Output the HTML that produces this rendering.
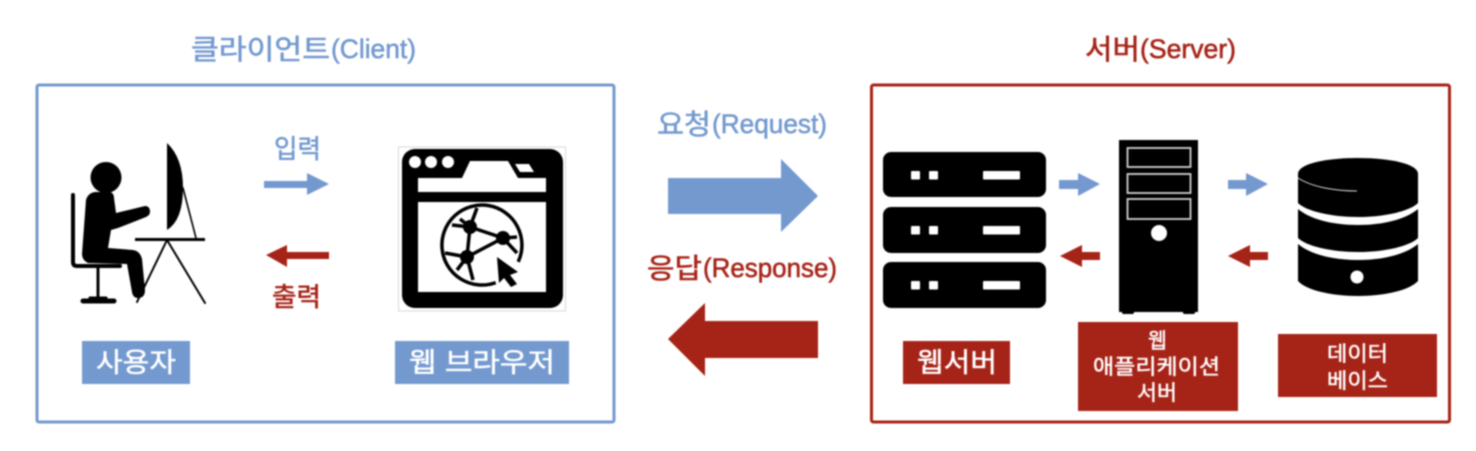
<!DOCTYPE html>
<html lang="ko">
<head>
<meta charset="utf-8">
<title>클라이언트 서버</title>
<style>
html,body{margin:0;padding:0;background:#fff;width:1476px;height:451px;overflow:hidden}
svg{display:block;filter:blur(.7px)}
text{font-family:"Liberation Sans","Noto Sans CJK KR","NanumGothic",sans-serif;stroke-width:.55px;paint-order:stroke}
.b{fill:#7399cf;stroke:#7399cf}
.r{fill:#a62317;stroke:#a62317}
.w{fill:#fff;stroke:#fff;stroke-width:.45px}
</style>
</head>
<body>
<svg width="1476" height="451" viewBox="0 0 1476 451" xmlns="http://www.w3.org/2000/svg">
<rect width="1476" height="451" fill="#fff"/>

<!-- containers -->
<rect x="37" y="85" width="577" height="337" rx="2" fill="#fff" stroke="#7399cf" stroke-width="3"/>
<rect x="871.5" y="85" width="578" height="337" rx="2" fill="#fff" stroke="#a62317" stroke-width="3"/>

<!-- titles -->
<text class="b" x="191" y="59" font-size="28" textLength="139" lengthAdjust="spacingAndGlyphs">클라이언트</text>
<text class="b" x="331" y="58" font-size="27" textLength="85" lengthAdjust="spacingAndGlyphs">(Client)</text>
<text class="r" x="1085" y="59" font-size="28" textLength="55" lengthAdjust="spacingAndGlyphs">서버</text>
<text class="r" x="1140" y="58" font-size="27" textLength="96" lengthAdjust="spacingAndGlyphs">(Server)</text>
<text class="b" x="657" y="134" font-size="28" textLength="54" lengthAdjust="spacingAndGlyphs">요청</text>
<text class="b" x="712" y="133" font-size="27" textLength="115" lengthAdjust="spacingAndGlyphs">(Request)</text>
<text class="r" x="647" y="278" font-size="28" textLength="55" lengthAdjust="spacingAndGlyphs">응답</text>
<text class="r" x="703" y="277" font-size="27" textLength="134" lengthAdjust="spacingAndGlyphs">(Response)</text>
<text class="b" x="274" y="158" font-size="26" textLength="47" lengthAdjust="spacingAndGlyphs">입력</text>
<text class="r" x="272" y="306" font-size="26" textLength="49" lengthAdjust="spacingAndGlyphs">출력</text>

<!-- big arrows -->
<polygon points="668,178 781,178 781,159 818,196 781,232 781,214 668,214" fill="#7399cf"/>
<polygon points="818,321 705,321 705,303 668,339 705,376 705,358 818,358" fill="#a62317"/>

<!-- client small arrows -->
<polygon points="264,181 307,181 307,173 329,184 307,195 307,188 264,188" fill="#7399cf"/>
<polygon points="329,252 287,252 287,245 266,255 287,267 287,259 329,259" fill="#a62317"/>

<!-- server small arrows -->
<polygon points="1059,180 1078,180 1078,173 1100,184 1078,196 1078,189 1059,189" fill="#7399cf"/>
<polygon points="1100,252 1082,252 1082,245 1060,256 1082,267 1082,260 1100,260" fill="#a62317"/>
<polygon points="1228,180 1246,180 1246,173 1268,184 1246,196 1246,189 1228,189" fill="#7399cf"/>
<polygon points="1268,252 1250,252 1250,245 1228,256 1250,267 1250,260 1268,260" fill="#a62317"/>

<!-- person at desk -->
<g fill="#000" stroke="none">
  <circle cx="106" cy="177.5" r="15.5"/>
  <path d="M86,200 Q88,193 95,192 L110,192 Q114,193 114,198 L116,213 L145,206 Q150,206 150,212 Q150,215 146,217 L118,228 L111,230 L108,248 L133,250 Q140,251 142,259 L145,290 Q145,298 138,298 Q133,298 132,292 L127,264 L88,263 Q82,260 82,254 Z"/>
  <path d="M167,143 Q183,158 183,188 Q183,220 167,230 Z"/>
  <rect x="135" y="238" width="70" height="3"/>
</g>
<g fill="none" stroke="#000" stroke-linecap="round">
  <path d="M73,195 L73,262 Q73,266 77,266 L120,266" stroke-width="4"/>
  <path d="M98,267 L98,297" stroke-width="3"/>
  <path d="M83,301 L114,301" stroke-width="5"/>
  <path d="M90,298 L106,298" stroke-width="3"/>
  <path d="M183,188 L196,238" stroke-width="1.6"/>
  <path d="M167,240 L205,303" stroke-width="2"/>
  <path d="M167,240 L137,302" stroke-width="2"/>
</g>

<!-- browser icon -->
<rect x="398.5" y="147" width="167" height="164" fill="#fff" stroke="#d8d8d8" stroke-width="1"/>
<rect x="402" y="149" width="161" height="159" rx="13" fill="#000"/>
<circle cx="415" cy="162" r="6" fill="#fff"/>
<circle cx="431" cy="162" r="6" fill="#fff"/>
<circle cx="448" cy="162" r="6" fill="#fff"/>
<polygon points="418,178 462,178 470,161 508,161 518,178 546,178 546,192 418,192" fill="#fff"/>
<polygon points="513,163 530,163 536,173 520,173" fill="#000"/>
<polygon points="515,164 529,164 534,172 520,172" fill="#fff"/>
<rect x="418" y="202" width="128" height="90" fill="#fff"/>
<g fill="none" stroke="#000" stroke-width="3.5">
  <path d="M495.7,282.6 A40,40 0 1 1 518.2,261.9"/>
  <path d="M470,227 L503,238 L467,257 Z"/>
  <path d="M470,227 L460,219 M470,227 L452,225 M470,227 L477,208 M503,238 L517,237 M503,238 L517,253 M467,257 L445,253 M467,257 L457,270 M467,257 L473,280"/>
</g>
<circle cx="470" cy="227" r="7"/>
<circle cx="503" cy="238" r="7"/>
<circle cx="467" cy="257" r="7"/>
<polygon points="497,257 518,272 510,275 517,284 511,287 504,278 499,283" fill="#000"/>

<!-- web server racks -->
<g fill="#000">
  <rect x="883" y="152" width="163" height="45" rx="8"/>
  <rect x="883" y="207" width="163" height="46" rx="8"/>
  <rect x="883" y="262" width="163" height="46" rx="8"/>
</g>
<g fill="#fff">
  <rect x="911" y="171" width="9" height="8.5" rx="1"/><rect x="929" y="171" width="9" height="8.5" rx="1"/><rect x="983" y="171" width="37" height="8.5" rx="1"/>
  <rect x="911" y="226" width="9" height="8.5" rx="1"/><rect x="929" y="226" width="9" height="8.5" rx="1"/><rect x="983" y="226" width="37" height="8.5" rx="1"/>
  <rect x="911" y="281" width="9" height="8.5" rx="1"/><rect x="929" y="281" width="9" height="8.5" rx="1"/><rect x="983" y="281" width="37" height="8.5" rx="1"/>
</g>

<!-- tower -->
<rect x="1119" y="140" width="79" height="172" fill="#000"/>
<rect x="1122" y="311" width="12" height="3" rx="1.5" fill="#000"/>
<rect x="1183" y="311" width="12" height="3" rx="1.5" fill="#000"/>
<g fill="none" stroke="#d0d0d0" stroke-width="1.8">
  <rect x="1127.5" y="148" width="63" height="19"/>
  <rect x="1127.5" y="174" width="63" height="19"/>
  <rect x="1127.5" y="199" width="63" height="20"/>
</g>
<circle cx="1159" cy="233" r="8" fill="#fff"/>

<!-- database -->
<g fill="#000">
  <path d="M1298,174 C1298,164 1325,158 1358,158 C1391,158 1418,164 1418,174 L1418,203 C1410,211 1385,217 1358,217 C1331,217 1306,211 1298,203 Z"/>
  <path d="M1298,209 C1310,219 1332,225 1358,225 C1384,225 1406,219 1418,209 L1418,238 C1410,246 1385,252 1358,252 C1331,252 1306,246 1298,238 Z"/>
  <path d="M1298,244 C1310,254 1332,260 1358,260 C1384,260 1406,254 1418,244 L1418,281 C1410,290 1385,296 1358,296 C1331,296 1306,290 1298,281 Z"/>
</g>
<path d="M1298,178 C1312,187 1335,191 1357,191" fill="none" stroke="#d8d8d8" stroke-width="1"/>
<circle cx="1357" cy="277" r="6.5" fill="#fff"/>

<!-- label boxes -->
<rect x="82" y="341" width="108" height="43" fill="#7399cf"/>
<text class="w" x="96" y="372" font-size="27" textLength="80" lengthAdjust="spacingAndGlyphs">사용자</text>
<rect x="395" y="341" width="174" height="43" fill="#7399cf"/>
<text class="w" x="409" y="372" font-size="27" textLength="146" lengthAdjust="spacingAndGlyphs">웹 브라우저</text>

<rect x="903" y="341" width="107" height="43" fill="#a62317"/>
<text class="w" x="917" y="372" font-size="27" textLength="80" lengthAdjust="spacingAndGlyphs">웹서버</text>

<rect x="1078" y="322" width="160" height="89" fill="#a62317"/>
<text class="w" x="1148" y="348" font-size="21" textLength="19" lengthAdjust="spacingAndGlyphs">웹</text>
<text class="w" x="1093" y="374" font-size="21" textLength="127" lengthAdjust="spacingAndGlyphs">애플리케이션</text>
<text class="w" x="1137" y="400" font-size="21" textLength="40" lengthAdjust="spacingAndGlyphs">서버</text>

<rect x="1278" y="334" width="159" height="63" fill="#a62317"/>
<text class="w" x="1327" y="361" font-size="21" textLength="61" lengthAdjust="spacingAndGlyphs">데이터</text>
<text class="w" x="1327" y="388" font-size="21" textLength="61" lengthAdjust="spacingAndGlyphs">베이스</text>
</svg>
</body>
</html>
